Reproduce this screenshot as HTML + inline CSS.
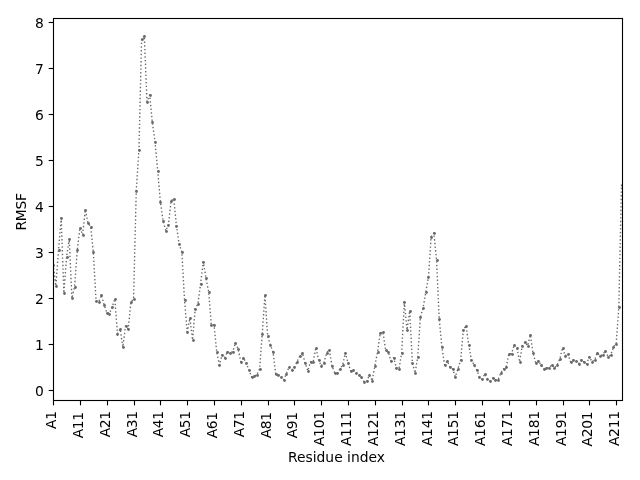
<!DOCTYPE html>
<html lang="en">
<head>
<meta charset="utf-8">
<title>RMSF per residue</title>
<style>
html,body{margin:0;padding:0;background:#fff;}
body{width:640px;height:480px;overflow:hidden;}
svg{display:block;}
</style>
</head>
<body>
<svg width="640" height="480" viewBox="0 0 640 480">
<rect width="640" height="480" fill="#ffffff"/>
<defs><clipPath id="ax"><rect x="53.15" y="18.3" width="569.2" height="381.3"/></clipPath></defs>
<g clip-path="url(#ax)">
<polyline points="53.15,264.88 55.83,285.76 58.51,250.16 61.19,217.96 63.87,292.94 66.55,257.06 69.23,238.89 71.91,298.23 74.60,286.50 77.28,249.93 79.96,227.62 82.64,234.75 85.32,209.68 88.00,223.02 90.68,226.70 93.36,252.46 96.04,301.10 98.72,301.77 101.40,295.10 104.09,304.62 106.77,312.58 109.45,313.64 112.13,306.88 114.81,299.06 117.49,333.51 120.17,328.91 122.85,346.99 125.53,326.01 128.21,328.91 130.89,302.42 133.58,298.60 136.26,191.00 138.94,149.88 141.62,38.88 144.30,35.98 146.98,101.58 149.66,94.91 152.34,122.42 155.02,141.74 157.70,170.76 160.38,201.77 163.07,220.77 165.75,230.75 168.43,224.86 171.11,200.76 173.79,198.78 176.47,226.01 179.15,243.90 181.83,251.77 184.51,299.89 187.19,331.76 189.87,318.24 192.56,339.77 195.24,308.53 197.92,303.98 200.60,283.60 203.28,261.75 205.96,277.90 208.64,291.74 211.32,324.91 214.00,324.91 216.68,351.59 219.37,364.88 222.05,355.04 224.73,357.66 227.41,351.73 230.09,352.92 232.77,351.59 235.45,342.99 238.13,348.88 240.81,361.76 243.49,357.80 246.17,362.91 248.86,369.76 251.54,376.75 254.22,376.02 256.90,374.73 259.58,368.89 262.26,333.88 264.94,294.87 267.62,335.90 270.30,344.74 272.98,351.73 275.66,373.58 278.35,374.73 281.03,376.75 283.71,379.79 286.39,373.76 289.07,366.77 291.75,369.90 294.43,367.00 297.11,361.62 299.79,356.01 302.47,353.02 305.15,363.32 307.84,370.77 310.52,361.76 313.20,361.76 315.88,347.63 318.56,359.92 321.24,365.76 323.92,362.91 326.60,352.88 329.28,349.75 331.96,365.76 334.64,372.89 337.33,372.89 340.01,368.89 342.69,364.88 345.37,352.88 348.05,362.91 350.73,370.86 353.41,369.94 356.09,372.89 358.77,374.73 361.45,376.89 364.13,381.90 366.82,380.89 369.50,375.00 372.18,380.89 374.86,365.90 377.54,351.91 380.22,332.91 382.90,331.90 385.58,349.75 388.26,351.91 390.94,360.88 393.62,357.75 396.31,367.74 398.99,368.75 401.67,352.88 404.35,302.00 407.03,329.83 409.71,311.02 412.39,362.91 415.07,372.89 417.75,356.88 420.43,316.77 423.11,307.89 425.80,292.02 428.48,276.98 431.16,236.73 433.84,232.91 436.52,259.91 439.20,318.88 441.88,346.99 444.56,364.75 447.24,361.02 449.92,367.00 452.61,368.89 455.29,376.75 457.97,368.61 460.65,359.92 463.33,329.88 466.01,325.74 468.69,344.51 471.37,359.92 474.05,364.75 476.73,369.90 479.41,376.75 482.10,378.91 484.78,373.90 487.46,378.91 490.14,380.75 492.82,377.99 495.50,379.74 498.18,379.74 500.86,372.89 503.54,368.89 506.22,366.86 508.90,353.75 511.59,353.61 514.27,344.92 516.95,347.91 519.63,361.76 522.31,345.75 524.99,342.02 527.67,345.75 530.35,334.89 533.03,352.88 535.71,362.91 538.39,360.74 541.08,364.88 543.76,368.89 546.44,367.60 549.12,367.92 551.80,364.88 554.48,367.92 557.16,364.75 559.84,358.90 562.52,347.91 565.20,355.73 567.88,353.61 570.57,361.76 573.25,359.73 575.93,360.74 578.61,363.73 581.29,359.73 583.97,361.99 586.65,363.87 589.33,356.74 592.01,361.76 594.69,359.73 597.37,352.88 600.06,355.73 602.74,354.76 605.42,350.76 608.10,356.74 610.78,354.90 613.46,346.76 616.14,343.91 618.82,307.43 621.50,184.89" fill="none" stroke="#696969" stroke-width="1.389" stroke-dasharray="1.389 2.292" stroke-dashoffset="0.300" stroke-linejoin="round"/>
<g fill="#696969">
<circle cx="53.5" cy="265.5" r="1.39"/>
<circle cx="56.5" cy="286.5" r="1.39"/>
<circle cx="59.5" cy="250.5" r="1.39"/>
<circle cx="61.5" cy="218.5" r="1.39"/>
<circle cx="64.5" cy="293.5" r="1.39"/>
<circle cx="67.5" cy="257.5" r="1.39"/>
<circle cx="69.5" cy="239.5" r="1.39"/>
<circle cx="72.5" cy="298.5" r="1.39"/>
<circle cx="75.5" cy="287.5" r="1.39"/>
<circle cx="77.5" cy="250.5" r="1.39"/>
<circle cx="80.5" cy="228.5" r="1.39"/>
<circle cx="83.5" cy="235.5" r="1.39"/>
<circle cx="85.5" cy="210.5" r="1.39"/>
<circle cx="88.5" cy="223.5" r="1.39"/>
<circle cx="91.5" cy="227.5" r="1.39"/>
<circle cx="93.5" cy="252.5" r="1.39"/>
<circle cx="96.5" cy="301.5" r="1.39"/>
<circle cx="99.5" cy="302.5" r="1.39"/>
<circle cx="101.5" cy="295.5" r="1.39"/>
<circle cx="104.5" cy="305.5" r="1.39"/>
<circle cx="107.5" cy="313.5" r="1.39"/>
<circle cx="109.5" cy="314.5" r="1.39"/>
<circle cx="112.5" cy="307.5" r="1.39"/>
<circle cx="115.5" cy="299.5" r="1.39"/>
<circle cx="117.5" cy="334.5" r="1.39"/>
<circle cx="120.5" cy="329.5" r="1.39"/>
<circle cx="123.5" cy="347.5" r="1.39"/>
<circle cx="126.5" cy="326.5" r="1.39"/>
<circle cx="128.5" cy="329.5" r="1.39"/>
<circle cx="131.5" cy="302.5" r="1.39"/>
<circle cx="134.5" cy="299.5" r="1.39"/>
<circle cx="136.5" cy="191.5" r="1.39"/>
<circle cx="139.5" cy="150.5" r="1.39"/>
<circle cx="142.5" cy="39.5" r="1.39"/>
<circle cx="144.5" cy="36.5" r="1.39"/>
<circle cx="147.5" cy="102.5" r="1.39"/>
<circle cx="150.5" cy="95.5" r="1.39"/>
<circle cx="152.5" cy="122.5" r="1.39"/>
<circle cx="155.5" cy="142.5" r="1.39"/>
<circle cx="158.5" cy="171.5" r="1.39"/>
<circle cx="160.5" cy="202.5" r="1.39"/>
<circle cx="163.5" cy="221.5" r="1.39"/>
<circle cx="166.5" cy="231.5" r="1.39"/>
<circle cx="168.5" cy="225.5" r="1.39"/>
<circle cx="171.5" cy="201.5" r="1.39"/>
<circle cx="174.5" cy="199.5" r="1.39"/>
<circle cx="176.5" cy="226.5" r="1.39"/>
<circle cx="179.5" cy="244.5" r="1.39"/>
<circle cx="182.5" cy="252.5" r="1.39"/>
<circle cx="185.5" cy="300.5" r="1.39"/>
<circle cx="187.5" cy="332.5" r="1.39"/>
<circle cx="190.5" cy="318.5" r="1.39"/>
<circle cx="193.5" cy="340.5" r="1.39"/>
<circle cx="195.5" cy="309.5" r="1.39"/>
<circle cx="198.5" cy="304.5" r="1.39"/>
<circle cx="201.5" cy="284.5" r="1.39"/>
<circle cx="203.5" cy="262.5" r="1.39"/>
<circle cx="206.5" cy="278.5" r="1.39"/>
<circle cx="209.5" cy="292.5" r="1.39"/>
<circle cx="211.5" cy="325.5" r="1.39"/>
<circle cx="214.5" cy="325.5" r="1.39"/>
<circle cx="217.5" cy="352.5" r="1.39"/>
<circle cx="219.5" cy="365.5" r="1.39"/>
<circle cx="222.5" cy="355.5" r="1.39"/>
<circle cx="225.5" cy="358.5" r="1.39"/>
<circle cx="227.5" cy="352.5" r="1.39"/>
<circle cx="230.5" cy="353.5" r="1.39"/>
<circle cx="233.5" cy="352.5" r="1.39"/>
<circle cx="235.5" cy="343.5" r="1.39"/>
<circle cx="238.5" cy="349.5" r="1.39"/>
<circle cx="241.5" cy="362.5" r="1.39"/>
<circle cx="243.5" cy="358.5" r="1.39"/>
<circle cx="246.5" cy="363.5" r="1.39"/>
<circle cx="249.5" cy="370.5" r="1.39"/>
<circle cx="252.5" cy="377.5" r="1.39"/>
<circle cx="254.5" cy="376.5" r="1.39"/>
<circle cx="257.5" cy="375.5" r="1.39"/>
<circle cx="260.5" cy="369.5" r="1.39"/>
<circle cx="262.5" cy="334.5" r="1.39"/>
<circle cx="265.5" cy="295.5" r="1.39"/>
<circle cx="268.5" cy="336.5" r="1.39"/>
<circle cx="270.5" cy="345.5" r="1.39"/>
<circle cx="273.5" cy="352.5" r="1.39"/>
<circle cx="276.5" cy="374.5" r="1.39"/>
<circle cx="278.5" cy="375.5" r="1.39"/>
<circle cx="281.5" cy="377.5" r="1.39"/>
<circle cx="284.5" cy="380.5" r="1.39"/>
<circle cx="286.5" cy="374.5" r="1.39"/>
<circle cx="289.5" cy="367.5" r="1.39"/>
<circle cx="292.5" cy="370.5" r="1.39"/>
<circle cx="294.5" cy="367.5" r="1.39"/>
<circle cx="297.5" cy="362.5" r="1.39"/>
<circle cx="300.5" cy="356.5" r="1.39"/>
<circle cx="302.5" cy="353.5" r="1.39"/>
<circle cx="305.5" cy="363.5" r="1.39"/>
<circle cx="308.5" cy="371.5" r="1.39"/>
<circle cx="311.5" cy="362.5" r="1.39"/>
<circle cx="313.5" cy="362.5" r="1.39"/>
<circle cx="316.5" cy="348.5" r="1.39"/>
<circle cx="319.5" cy="360.5" r="1.39"/>
<circle cx="321.5" cy="366.5" r="1.39"/>
<circle cx="324.5" cy="363.5" r="1.39"/>
<circle cx="327.5" cy="353.5" r="1.39"/>
<circle cx="329.5" cy="350.5" r="1.39"/>
<circle cx="332.5" cy="366.5" r="1.39"/>
<circle cx="335.5" cy="373.5" r="1.39"/>
<circle cx="337.5" cy="373.5" r="1.39"/>
<circle cx="340.5" cy="369.5" r="1.39"/>
<circle cx="343.5" cy="365.5" r="1.39"/>
<circle cx="345.5" cy="353.5" r="1.39"/>
<circle cx="348.5" cy="363.5" r="1.39"/>
<circle cx="351.5" cy="371.5" r="1.39"/>
<circle cx="353.5" cy="370.5" r="1.39"/>
<circle cx="356.5" cy="373.5" r="1.39"/>
<circle cx="359.5" cy="375.5" r="1.39"/>
<circle cx="361.5" cy="377.5" r="1.39"/>
<circle cx="364.5" cy="382.5" r="1.39"/>
<circle cx="367.5" cy="381.5" r="1.39"/>
<circle cx="369.5" cy="375.5" r="1.39"/>
<circle cx="372.5" cy="381.5" r="1.39"/>
<circle cx="375.5" cy="366.5" r="1.39"/>
<circle cx="378.5" cy="352.5" r="1.39"/>
<circle cx="380.5" cy="333.5" r="1.39"/>
<circle cx="383.5" cy="332.5" r="1.39"/>
<circle cx="386.5" cy="350.5" r="1.39"/>
<circle cx="388.5" cy="352.5" r="1.39"/>
<circle cx="391.5" cy="361.5" r="1.39"/>
<circle cx="394.5" cy="358.5" r="1.39"/>
<circle cx="396.5" cy="368.5" r="1.39"/>
<circle cx="399.5" cy="369.5" r="1.39"/>
<circle cx="402.5" cy="353.5" r="1.39"/>
<circle cx="404.5" cy="302.5" r="1.39"/>
<circle cx="407.5" cy="330.5" r="1.39"/>
<circle cx="410.5" cy="311.5" r="1.39"/>
<circle cx="412.5" cy="363.5" r="1.39"/>
<circle cx="415.5" cy="373.5" r="1.39"/>
<circle cx="418.5" cy="357.5" r="1.39"/>
<circle cx="420.5" cy="317.5" r="1.39"/>
<circle cx="423.5" cy="308.5" r="1.39"/>
<circle cx="426.5" cy="292.5" r="1.39"/>
<circle cx="428.5" cy="277.5" r="1.39"/>
<circle cx="431.5" cy="237.5" r="1.39"/>
<circle cx="434.5" cy="233.5" r="1.39"/>
<circle cx="437.5" cy="260.5" r="1.39"/>
<circle cx="439.5" cy="319.5" r="1.39"/>
<circle cx="442.5" cy="347.5" r="1.39"/>
<circle cx="445.5" cy="365.5" r="1.39"/>
<circle cx="447.5" cy="361.5" r="1.39"/>
<circle cx="450.5" cy="367.5" r="1.39"/>
<circle cx="453.5" cy="369.5" r="1.39"/>
<circle cx="455.5" cy="377.5" r="1.39"/>
<circle cx="458.5" cy="369.5" r="1.39"/>
<circle cx="461.5" cy="360.5" r="1.39"/>
<circle cx="463.5" cy="330.5" r="1.39"/>
<circle cx="466.5" cy="326.5" r="1.39"/>
<circle cx="469.5" cy="345.5" r="1.39"/>
<circle cx="471.5" cy="360.5" r="1.39"/>
<circle cx="474.5" cy="365.5" r="1.39"/>
<circle cx="477.5" cy="370.5" r="1.39"/>
<circle cx="479.5" cy="377.5" r="1.39"/>
<circle cx="482.5" cy="379.5" r="1.39"/>
<circle cx="485.5" cy="374.5" r="1.39"/>
<circle cx="487.5" cy="379.5" r="1.39"/>
<circle cx="490.5" cy="381.5" r="1.39"/>
<circle cx="493.5" cy="378.5" r="1.39"/>
<circle cx="495.5" cy="380.5" r="1.39"/>
<circle cx="498.5" cy="380.5" r="1.39"/>
<circle cx="501.5" cy="373.5" r="1.39"/>
<circle cx="504.5" cy="369.5" r="1.39"/>
<circle cx="506.5" cy="367.5" r="1.39"/>
<circle cx="509.5" cy="354.5" r="1.39"/>
<circle cx="512.5" cy="354.5" r="1.39"/>
<circle cx="514.5" cy="345.5" r="1.39"/>
<circle cx="517.5" cy="348.5" r="1.39"/>
<circle cx="520.5" cy="362.5" r="1.39"/>
<circle cx="522.5" cy="346.5" r="1.39"/>
<circle cx="525.5" cy="342.5" r="1.39"/>
<circle cx="528.5" cy="346.5" r="1.39"/>
<circle cx="530.5" cy="335.5" r="1.39"/>
<circle cx="533.5" cy="353.5" r="1.39"/>
<circle cx="536.5" cy="363.5" r="1.39"/>
<circle cx="538.5" cy="361.5" r="1.39"/>
<circle cx="541.5" cy="365.5" r="1.39"/>
<circle cx="544.5" cy="369.5" r="1.39"/>
<circle cx="546.5" cy="368.5" r="1.39"/>
<circle cx="549.5" cy="368.5" r="1.39"/>
<circle cx="552.5" cy="365.5" r="1.39"/>
<circle cx="554.5" cy="368.5" r="1.39"/>
<circle cx="557.5" cy="365.5" r="1.39"/>
<circle cx="560.5" cy="359.5" r="1.39"/>
<circle cx="563.5" cy="348.5" r="1.39"/>
<circle cx="565.5" cy="356.5" r="1.39"/>
<circle cx="568.5" cy="354.5" r="1.39"/>
<circle cx="571.5" cy="362.5" r="1.39"/>
<circle cx="573.5" cy="360.5" r="1.39"/>
<circle cx="576.5" cy="361.5" r="1.39"/>
<circle cx="579.5" cy="364.5" r="1.39"/>
<circle cx="581.5" cy="360.5" r="1.39"/>
<circle cx="584.5" cy="362.5" r="1.39"/>
<circle cx="587.5" cy="364.5" r="1.39"/>
<circle cx="589.5" cy="357.5" r="1.39"/>
<circle cx="592.5" cy="362.5" r="1.39"/>
<circle cx="595.5" cy="360.5" r="1.39"/>
<circle cx="597.5" cy="353.5" r="1.39"/>
<circle cx="600.5" cy="356.5" r="1.39"/>
<circle cx="603.5" cy="355.5" r="1.39"/>
<circle cx="605.5" cy="351.5" r="1.39"/>
<circle cx="608.5" cy="357.5" r="1.39"/>
<circle cx="611.5" cy="355.5" r="1.39"/>
<circle cx="613.5" cy="347.5" r="1.39"/>
<circle cx="616.5" cy="344.5" r="1.39"/>
<circle cx="619.5" cy="307.5" r="1.39"/>
<circle cx="622.5" cy="185.5" r="1.39"/>
</g></g>
<g stroke="#000" stroke-width="1.111" fill="none">
<path d="M53.5 400.5 v4.86"/>
<path d="M80.5 400.5 v4.86"/>
<path d="M107.5 400.5 v4.86"/>
<path d="M134.5 400.5 v4.86"/>
<path d="M160.5 400.5 v4.86"/>
<path d="M187.5 400.5 v4.86"/>
<path d="M214.5 400.5 v4.86"/>
<path d="M241.5 400.5 v4.86"/>
<path d="M268.5 400.5 v4.86"/>
<path d="M294.5 400.5 v4.86"/>
<path d="M321.5 400.5 v4.86"/>
<path d="M348.5 400.5 v4.86"/>
<path d="M375.5 400.5 v4.86"/>
<path d="M402.5 400.5 v4.86"/>
<path d="M428.5 400.5 v4.86"/>
<path d="M455.5 400.5 v4.86"/>
<path d="M482.5 400.5 v4.86"/>
<path d="M509.5 400.5 v4.86"/>
<path d="M536.5 400.5 v4.86"/>
<path d="M563.5 400.5 v4.86"/>
<path d="M589.5 400.5 v4.86"/>
<path d="M616.5 400.5 v4.86"/>
<path d="M53.5 390.5 h-4.86"/>
<path d="M53.5 344.5 h-4.86"/>
<path d="M53.5 298.5 h-4.86"/>
<path d="M53.5 252.5 h-4.86"/>
<path d="M53.5 206.5 h-4.86"/>
<path d="M53.5 160.5 h-4.86"/>
<path d="M53.5 114.5 h-4.86"/>
<path d="M53.5 68.5 h-4.86"/>
<path d="M53.5 22.5 h-4.86"/>
<rect x="53.5" y="18.5" width="569.0" height="382.0" stroke-linejoin="miter"/>
</g>
<g font-family="'DejaVu Sans', 'Liberation Sans', sans-serif" font-size="13.89px" fill="#000000">
<g letter-spacing="-0.30">
<text transform="translate(55.50,411.30) rotate(-90)" text-anchor="end">A1</text>
<text transform="translate(82.50,412.10) rotate(-90)" text-anchor="end">A11</text>
<text transform="translate(109.50,411.10) rotate(-90)" text-anchor="end">A21</text>
<text transform="translate(136.50,411.10) rotate(-90)" text-anchor="end">A31</text>
<text transform="translate(162.50,411.10) rotate(-90)" text-anchor="end">A41</text>
<text transform="translate(189.50,411.10) rotate(-90)" text-anchor="end">A51</text>
<text transform="translate(216.50,412.10) rotate(-90)" text-anchor="end">A61</text>
<text transform="translate(243.50,411.10) rotate(-90)" text-anchor="end">A71</text>
<text transform="translate(270.50,412.10) rotate(-90)" text-anchor="end">A81</text>
<text transform="translate(296.50,412.10) rotate(-90)" text-anchor="end">A91</text>
<text transform="translate(323.50,411.30) rotate(-90)" text-anchor="end">A101</text>
<text transform="translate(350.50,411.30) rotate(-90)" text-anchor="end">A111</text>
<text transform="translate(377.50,411.30) rotate(-90)" text-anchor="end">A121</text>
<text transform="translate(404.50,411.30) rotate(-90)" text-anchor="end">A131</text>
<text transform="translate(431.50,411.30) rotate(-90)" text-anchor="end">A141</text>
<text transform="translate(457.50,411.30) rotate(-90)" text-anchor="end">A151</text>
<text transform="translate(484.50,411.30) rotate(-90)" text-anchor="end">A161</text>
<text transform="translate(511.50,411.30) rotate(-90)" text-anchor="end">A171</text>
<text transform="translate(538.50,411.30) rotate(-90)" text-anchor="end">A181</text>
<text transform="translate(565.50,411.30) rotate(-90)" text-anchor="end">A191</text>
<text transform="translate(591.50,411.70) rotate(-90)" text-anchor="end">A201</text>
<text transform="translate(618.50,411.30) rotate(-90)" text-anchor="end">A211</text>
</g>
<text x="43.80" y="395.50" text-anchor="end">0</text>
<text x="43.80" y="349.50" text-anchor="end">1</text>
<text x="43.80" y="303.50" text-anchor="end">2</text>
<text x="43.80" y="257.50" text-anchor="end">3</text>
<text x="43.80" y="211.50" text-anchor="end">4</text>
<text x="43.80" y="165.50" text-anchor="end">5</text>
<text x="43.80" y="119.50" text-anchor="end">6</text>
<text x="43.80" y="73.50" text-anchor="end">7</text>
<text x="43.80" y="27.50" text-anchor="end">8</text>
<text x="336.50" y="461.50" text-anchor="middle" letter-spacing="0.00">Residue index</text>
<text transform="translate(25.50,211.90) rotate(-90)" text-anchor="middle" letter-spacing="-0.30">RMSF</text>
</g>
</svg>
</body>
</html>
